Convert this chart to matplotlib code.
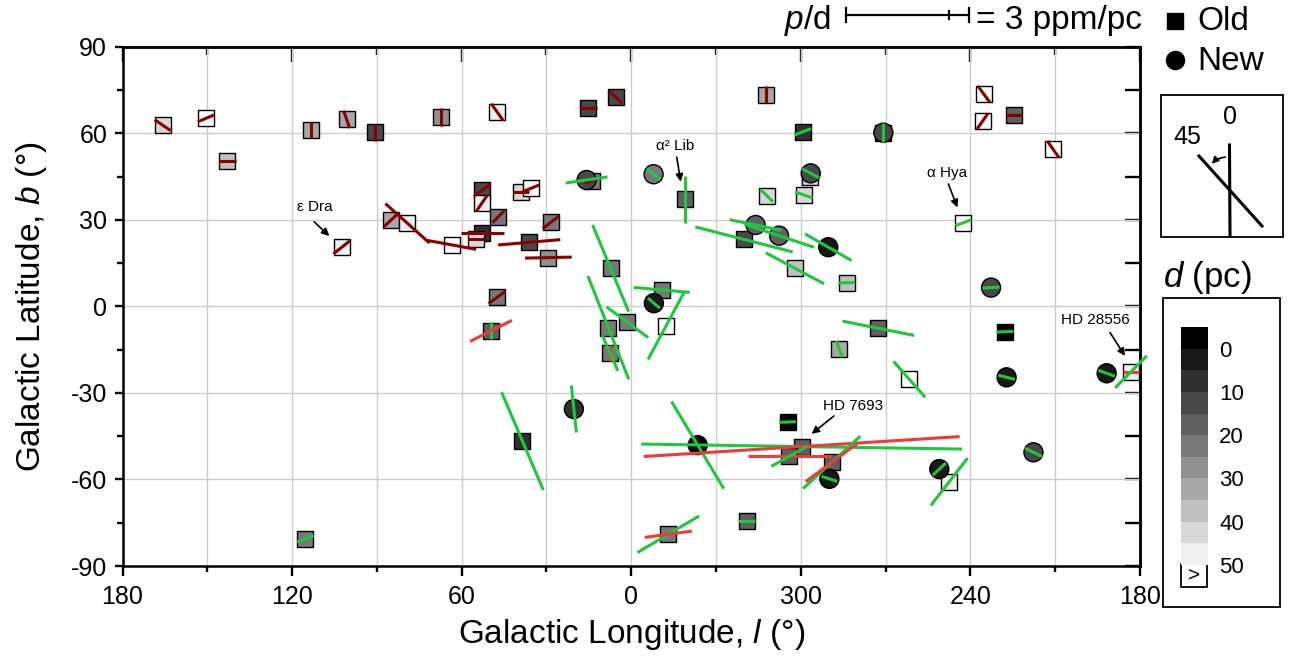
import numpy as np
import matplotlib
matplotlib.use('Agg')
import matplotlib.pyplot as plt
from matplotlib.patches import Rectangle, FancyArrowPatch
from matplotlib.ticker import MultipleLocator
from matplotlib.transforms import blended_transform_factory

plt.rcParams['font.family'] = ['Liberation Sans', 'DejaVu Sans']
plt.rcParams['mathtext.fontset'] = 'custom'
plt.rcParams['mathtext.rm'] = 'Liberation Sans'
plt.rcParams['mathtext.it'] = 'Liberation Sans:italic'
plt.rcParams['axes.unicode_minus'] = False

# old measurements (squares): galactic l, b (deg) and distance d (pc), d > 50 drawn white
old_l = [165.8, 150.4, 142.9, 113.2, 100.7, 90.6, 67.3, 102.4, 85.1, 79.2,
         63.5, 47.4, 15.2, 5.5, 312.4, 52.7, 52.9, 39.1, 35.5, 47.0,
         28.5, 52.7, 55.0, 36.1, 29.3, 47.5, 49.6, 13.9, 341.0, 312.1,
         298.9, 296.8, 299.3, 270.9, 235.2, 235.7, 224.6, 210.7, 242.5, 320.1,
         302.1, 283.8, 7.3, 8.1, 1.4, 349.2, 347.7, 7.5, 38.5, 304.7,
         299.7, 304.1, 289.1, 346.9, 319.2, 115.3, 272.6, 286.4, 261.6, 227.8,
         183.2, 247.5]
old_b = [62.8, 65.2, 50.5, 61.1, 64.8, 60.3, 65.6, 20.5, 29.8, 28.8,
         21.3, 67.3, 68.6, 72.5, 73.3, 40.3, 35.7, 39.7, 40.9, 31.1,
         29.1, 25.3, 23.3, 22.2, 16.9, 3.1, -8.5, 43.6, 37.1, 38.4,
         38.6, 44.9, 60.5, 60.2, 73.5, 64.2, 66.3, 54.4, 29.0, 23.2,
         13.2, 8.2, 13.2, -7.4, -5.5, 5.7, -6.8, -16.2, -46.7, -40.1,
         -48.6, -52.0, -54.1, -79.0, -74.4, -80.6, -7.6, -14.8, -25.3, -8.8,
         -22.7, -60.8]
old_d = [43, 60, 38, 33, 33, 13, 28, 48, 33, 48,
         60, 48, 13, 13, 33, 13, 48, 43, 60, 23,
         23, 8, 43, 13, 28, 23, 18, 23, 18, 43,
         43, 43, 8, 8, 60, 60, 18, 60, 60, 13,
         38, 38, 23, 23, 23, 23, 60, 23, 8, 0,
         18, 18, 18, 23, 18, 23, 18, 33, 60, 0,
         48, 48]

# new measurements (circles)
new_l = [15.8, 352.1, 296.5, 270.8, 316.0, 307.7, 290.3, 232.7,
         352.0, 20.3, 336.5, 289.9, 227.2, 217.7, 251.0, 191.8]
new_b = [43.8, 45.8, 46.1, 60.2, 28.2, 24.5, 20.5, 6.5,
         1.1, -35.6, -48.1, -59.8, -24.6, -50.6, -56.4, -23.2]
new_d = [13, 23, 13, 13, 18, 18, 3, 13, 3, 8, 0, 3, 3, 13, 3, 3]

# polarisation vectors: star, p/d (ppm/pc), position angle (deg), source
vec_star = ['o1', 'o2', 'o3', 'o4', 'o5', 'o6', 'o7', 'o8', 'o9', 'o10',
            'o11', 'o12', 'o13', 'o14', 'o15', 'o16', 'o17', 'o18', 'o19', 'o20',
            'o21', 'o22', 'o23', 'o24', 'o25', 'o26', 'o27', 'o27', 'o28', 'n1',
            'n2', 'o29', 'o30', 'o31', 'n3', 'o33', 'o34', 'n4', 'o35', 'o36',
            'o37', 'o38', 'o39', 'n8', 'o42', 'n7', 'o41', 'o40', 'n5', 'n6',
            'o43', 'o44', 'o45', 'o48', 'o48', 'o46', 'n9', 'o47', 'n10', 'o49',
            'n11', 'o51', 'o51', 'o50', 'o52', 'o52', 'o53', 'o53', 'n12', 'o54',
            'o54', 'o55', 'o56', 'o57', 'o58', 'o59', 'o60', 'n13', 'n14', 'n15',
            'o62', 'n16', 'o61', 'o61']
vec_pd = [0.47, 0.44, 0.41, 0.41, 0.45, 0.41, 0.42, 0.52, 0.44, 1.44,
          1.21, 0.50, 0.41, 0.43, 0.42, 0.50, 0.47, 0.38, 0.44, 0.41,
          0.49, 1.04, 0.38, 1.52, 1.14, 0.51, 0.42, 1.14, 0.39, 1.03,
          0.43, 1.16, 0.43, 0.45, 0.46, 0.43, 0.41, 0.45, 0.51, 0.47,
          0.41, 0.50, 0.42, 0.41, 0.41, 1.31, 1.61, 2.45, 1.29, 1.80,
          2.29, 2.71, 1.26, 0.41, 0.95, 1.37, 0.38, 1.85, 1.15, 2.59,
          2.48, 7.83, 7.72, 0.41, 2.03, 1.00, 1.89, 1.57, 0.40, 1.75,
          1.16, 0.41, 0.43, 1.78, 0.42, 1.17, 0.41, 0.42, 0.46, 0.44,
          1.46, 0.43, 0.41, 1.10]
vec_pa = [55.5, 112.7, 90, 0, 19, 0, 0, 128.5, 133, 48.2,
          79.6, 35, 90, 46, 0, 125, 145.5, 90, 112, 135.7,
          127.6, 90, 90, 94.9, 91.2, 126.4, 0, 116.7, 108.4, 98.2,
          51.8, 0, 46, 70.9, 61.7, 110.7, 0, 0, 36.4, 145,
          90, 35, 110.6, 93, 92, 60.2, 62, 75.6, 78.4, 71.6,
          22.6, 21.6, 53.6, 0, 23.7, 84.9, 49.5, 151.8, 6.1, 23.1,
          30.9, 89.1, 93.6, 92, 90, 119.1, 132.5, 126.5, 72.3, 120.7,
          97.6, 90, 110.7, 78.7, 20.6, 41.4, 92, 75.6, 64, 132.8,
          142.2, 70.2, 90, 135.5]
vec_src = ['old'] * 26 + ['new', 'lit', 'old', 'new',
           'new', 'new', 'new', 'new', 'new', 'new', 'old', 'new', 'old', 'old',
           'old', 'old', 'new', 'new', 'new', 'new', 'new', 'new', 'new', 'new',
           'new', 'new', 'new', 'lit', 'new', 'new', 'new', 'new', 'new', 'new',
           'new', 'new', 'lit', 'new', 'lit', 'new', 'new', 'lit', 'new', 'new',
           'lit', 'new', 'new', 'new', 'new', 'new', 'new', 'new', 'new', 'new',
           'new', 'new', 'lit', 'new']

d_edges = np.arange(-5, 51, 5)
d_ticks = [0, 10, 20, 30, 40, 50]
grays = [str(round(v, 3)) for v in np.linspace(0, 0.94, 11)] + ['white']
src_color = {'old': '#8b0000', 'new': '#1ec83c', 'lit': '#ee3a3a'}


def lon_to_x(l):
    l = np.asarray(l, dtype=float)
    return np.where(l > 180, l - 360, l)


def d_color(d):
    i = int(np.digitize(d, d_edges, right=True)) - 1
    return grays[min(i, 11)]


W, H = 1292, 662
fig = plt.figure(figsize=(W / 100, H / 100), dpi=100)
ax = fig.add_axes([122.5 / W, 1 - 566 / H, 1017.5 / W, 519.3 / H])

ax.set_xlim(180, -180)
ax.set_ylim(-90, 90)
ax.set_xticks([180, 120, 60, 0, -60, -120, -180])
ax.set_xticklabels(['180', '120', '60', '0', '300', '240', '180'])
ax.xaxis.set_minor_locator(MultipleLocator(30))
ax.yaxis.set_major_locator(MultipleLocator(30))
ax.yaxis.set_minor_locator(MultipleLocator(15))
ax.grid(which='major', color='#cccccc', lw=1.0)
ax.grid(which='minor', axis='x', color='#cccccc', lw=1.0)
ax.set_axisbelow(True)
for s in ax.spines.values():
    s.set_linewidth(1.8)
ax.tick_params(which='both', direction='out', width=1.7, labelsize=18)
ax.tick_params(axis='x', which='major', length=7, pad=7)
ax.tick_params(axis='x', which='minor', length=4)
ax.tick_params(axis='y', which='major', length=6, pad=5)
ax.tick_params(axis='y', which='minor', length=4)

sx = ax.secondary_xaxis('top')
sx.set_xticks([180, 120, 60, 0, -60, -120, -180])
sx.xaxis.set_minor_locator(MultipleLocator(30))
sx.tick_params(which='both', direction='in', width=1.7, labeltop=False)
sx.tick_params(which='major', length=10.8)
sx.tick_params(which='minor', length=5.8)
sx.spines['top'].set_linewidth(1.8)
sy = ax.secondary_yaxis('right')
sy.yaxis.set_major_locator(MultipleLocator(30))
sy.yaxis.set_minor_locator(MultipleLocator(15))
sy.tick_params(which='both', direction='in', width=1.7, labelright=False, length=10.8)
sy.spines['right'].set_linewidth(1.8)

ax.set_xlabel('Galactic Longitude, $l$ (°)', fontsize=24)
ax.set_ylabel('Galactic Latitude, $b$ (°)', fontsize=24)
ax.xaxis.set_label_coords(0.5, -0.098)
ax.yaxis.set_label_coords(-0.072, 0.5)

# stars
ox, nx = lon_to_x(old_l), lon_to_x(new_l)
ax.scatter(ox, old_b, marker='s', s=11.5 ** 2, c=[d_color(d) for d in old_d],
           edgecolors='k', linewidths=1.0, zorder=3, clip_on=False)
ax.scatter(nx, new_b, marker='o', s=13.7 ** 2, c=[d_color(d) for d in new_d],
           edgecolors='k', linewidths=1.0, zorder=4, clip_on=False)

pos = {}
for i in range(len(old_l)):
    pos[f'o{i + 1}'] = (ox[i], old_b[i])
for i in range(len(new_l)):
    pos[f'n{i + 1}'] = (nx[i], new_b[i])

# vector length: 41 px per ppm/pc
ppx = 1017.5 / 360
ppy = 519.3 / 180
KX, KY = 41 / ppx, 41 / ppy
for st, pd, pa, src in zip(vec_star, vec_pd, vec_pa, vec_src):
    x0, y0 = pos[st]
    a = np.radians(pa)
    dx = pd / 2 * KX * np.sin(a)
    dy = pd / 2 * KY * np.cos(a)
    ax.plot([x0 - dx, x0 + dx], [y0 - dy, y0 + dy], color=src_color[src],
            lw=2.2, solid_capstyle='butt', zorder=5, clip_on=False)

# labelled stars
notes = [('ε Dra', (111.9, 34.5), (112.2, 29.3), (106.8, 24.4)),
         ('α² Lib', (-15.5, 55.6), (-16.1, 51.7), (-17.5, 43.2)),
         ('α Hya', (-111.6, 46.1), (-112.2, 42.4), (-115.4, 34.3)),
         ('HD 7693', (-78.4, -34.5), (-71.7, -38.0), (-63.8, -44.2)),
         ('HD 28556', (-164.1, -4.7), (-169.4, -9.1), (-174.7, -17.2))]
for txt, tpos, start, tip in notes:
    ax.text(*tpos, txt, fontsize=11, ha='center', va='center', zorder=6)
    ax.annotate('', xy=tip, xytext=start, zorder=6,
                arrowprops=dict(arrowstyle='-|>', color='k', lw=1.2,
                                mutation_scale=11, shrinkA=0, shrinkB=0))

# scale bar above the axes
tr = blended_transform_factory(ax.transData, ax.transAxes)
x0 = -76.0
yb = 1.061
ax.plot([x0, x0 - 3 * KX], [yb, yb], color='k', lw=1.6, transform=tr, clip_on=False)
for xx, hh in [(x0, 0.013), (x0 - 3 * KX, 0.013), (x0 - 2.5 * KX, 0.007)]:
    ax.plot([xx, xx], [yb - hh, yb + hh], color='k', lw=1.6, transform=tr, clip_on=False)

# legend overlay in pixel coordinates
lg = fig.add_axes([0, 0, 1, 1])
lg.set_xlim(0, W)
lg.set_ylim(H, 0)
lg.axis('off')
lg.patch.set_alpha(0)

lg.text(784, 20, '$p$/d', fontsize=24, ha='left', va='center')
lg.text(976, 20, '= 3 ppm/pc', fontsize=24, ha='left', va='center')
lg.scatter([1175], [21], marker='s', s=11 ** 2, c='k')
lg.scatter([1175], [60], marker='o', s=13 ** 2, c='k')
lg.text(1197, 22, 'Old', fontsize=24, ha='left', va='center')
lg.text(1197, 61, 'New', fontsize=24, ha='left', va='center')

lg.add_patch(Rectangle((1161, 95), 122, 142, fill=False, lw=1.3))
lg.plot([1229.5, 1230], [145, 235], color='k', lw=2.2)
lg.plot([1199, 1262], [156, 226], color='k', lw=2.2)
lg.add_patch(FancyArrowPatch((1228, 157), (1210, 166), connectionstyle='arc3,rad=0.25',
                             arrowstyle='-|>', mutation_scale=10, lw=1.2, color='k'))
lg.text(1187, 137, '45', fontsize=18, ha='center', va='center')
lg.text(1230, 117, '0', fontsize=18, ha='center', va='center')

lg.text(1163, 278, '$d$ (pc)', fontsize=25, ha='left', va='center')
lg.add_patch(Rectangle((1162.7, 298), 117.3, 309.3, fill=False, lw=1.3))
lg.add_patch(Rectangle((1180.7, 564.3), 26, 23, facecolor='white', edgecolor='k', lw=1.3))
lg.text(1193.7, 576, '>', fontsize=15, ha='center', va='center')

# distance scale
cax = fig.add_axes([1181 / W, 1 - 565 / H, 27 / W, 238 / H])
cax.bar(0.5, np.diff(d_edges), bottom=d_edges[:-1], width=1.0,
        color=grays[:11], edgecolor='none')
cax.set_xlim(0, 1)
cax.set_ylim(50, -5)
cax.set_xticks([])
cax.set_yticks(d_ticks)
cax.yaxis.tick_right()
cax.tick_params(axis='y', length=0, pad=8, labelsize=16)
for s in cax.spines.values():
    s.set_visible(False)

fig.savefig('out.png', dpi=100)
